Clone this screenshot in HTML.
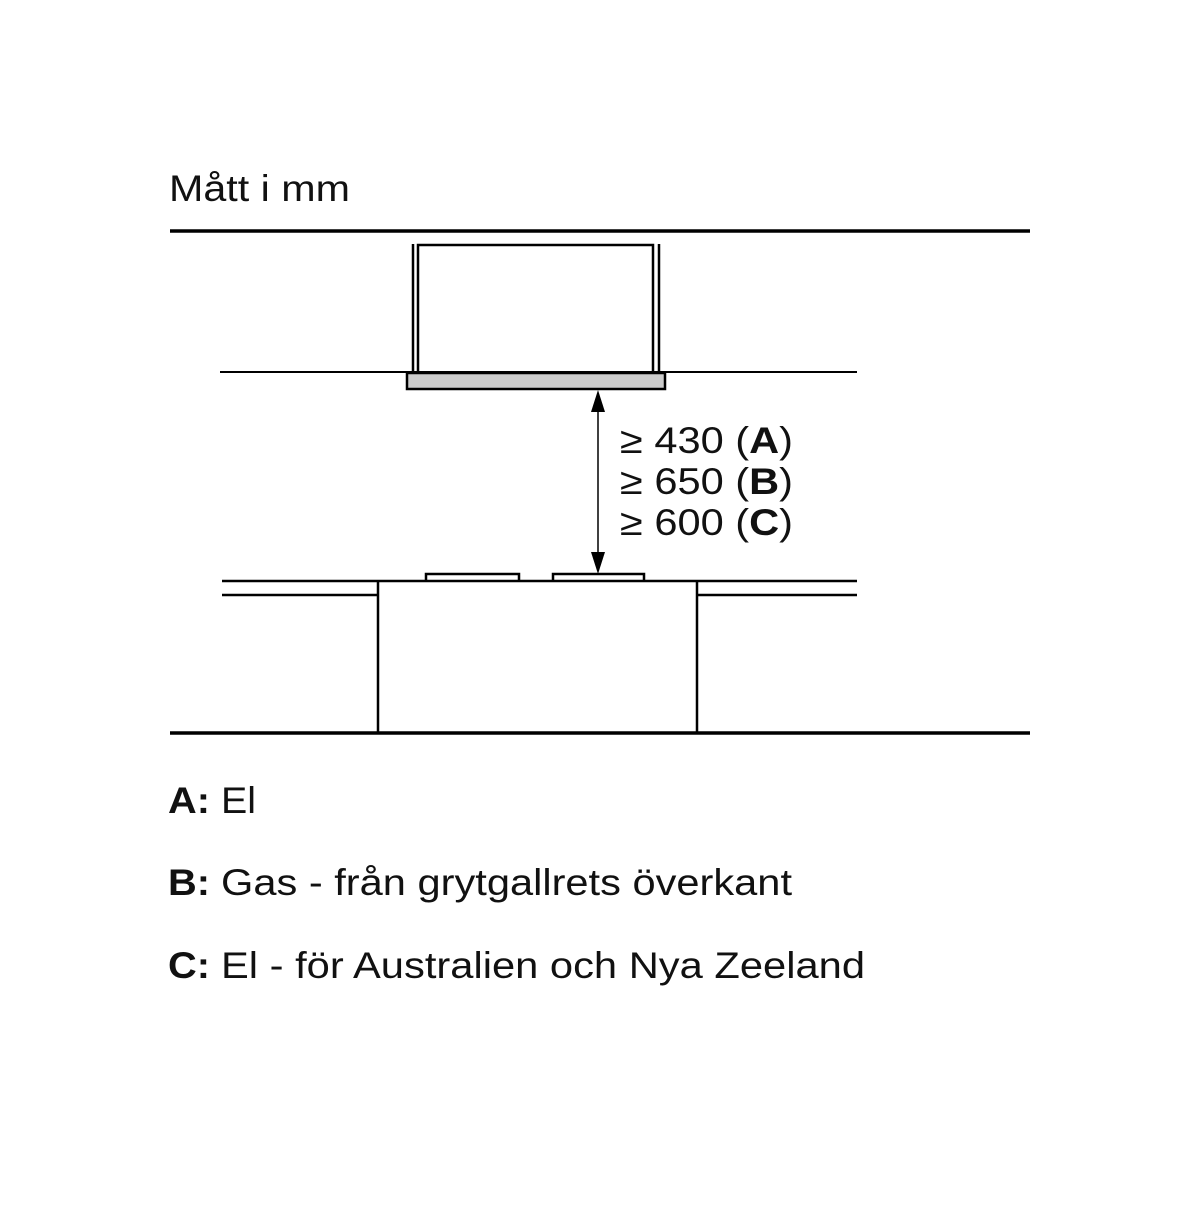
<!DOCTYPE html>
<html><head><style>
body{margin:0;background:#fff;}
svg text{font-family:"Liberation Sans",sans-serif;fill:#111;}
</style></head><body>
<svg width="1200" height="1200" viewBox="0 0 1200 1200">
<text x="169" y="201" font-size="37" textLength="181" lengthAdjust="spacingAndGlyphs">Mått i mm</text>
<line x1="170" y1="231" x2="1030" y2="231" stroke="#000" stroke-width="3.5"/>
<g stroke="#000" stroke-width="2.5" fill="none">
<line x1="413" y1="244" x2="413" y2="371"/>
<line x1="659" y1="244" x2="659" y2="371"/>
<polyline points="418,372 418,245 653,245 653,372"/>
</g>
<line x1="220" y1="372" x2="857" y2="372" stroke="#000" stroke-width="2"/>
<rect x="407" y="373" width="258" height="16" fill="#ccc" stroke="#000" stroke-width="2.5"/>
<line x1="598" y1="405" x2="598" y2="560" stroke="#000" stroke-width="1.5"/>
<polygon points="598,390 591,412 605,412" fill="#000"/>
<polygon points="598,574 591,552 605,552" fill="#000"/>
<text x="620" y="453" font-size="37" textLength="173" lengthAdjust="spacingAndGlyphs">≥ 430 (<tspan font-weight="bold">A</tspan>)</text>
<text x="620" y="494" font-size="37" textLength="173" lengthAdjust="spacingAndGlyphs">≥ 650 (<tspan font-weight="bold">B</tspan>)</text>
<text x="620" y="535" font-size="37" textLength="173" lengthAdjust="spacingAndGlyphs">≥ 600 (<tspan font-weight="bold">C</tspan>)</text>
<g stroke="#000" stroke-width="2.5" fill="none">
<line x1="222" y1="581" x2="857" y2="581"/>
<line x1="222" y1="595" x2="378" y2="595"/>
<line x1="697" y1="595" x2="857" y2="595"/>
<line x1="378" y1="581" x2="378" y2="733"/>
<line x1="697" y1="581" x2="697" y2="733"/>
<polyline points="426,581 426,574 519,574 519,581"/>
<polyline points="553,581 553,574 644,574 644,581"/>
</g>
<line x1="170" y1="733" x2="1030" y2="733" stroke="#000" stroke-width="3.5"/>
<g font-size="37">
<text x="168" y="813" font-weight="bold" textLength="42" lengthAdjust="spacingAndGlyphs">A:</text>
<text x="221" y="813" textLength="35" lengthAdjust="spacingAndGlyphs">El</text>
<text x="168" y="895" font-weight="bold" textLength="42" lengthAdjust="spacingAndGlyphs">B:</text>
<text x="221" y="895" textLength="571" lengthAdjust="spacingAndGlyphs">Gas - från grytgallrets överkant</text>
<text x="168" y="978" font-weight="bold" textLength="42" lengthAdjust="spacingAndGlyphs">C:</text>
<text x="221" y="978" textLength="644" lengthAdjust="spacingAndGlyphs">El - för Australien och Nya Zeeland</text>
</g>
</svg>
</body></html>
